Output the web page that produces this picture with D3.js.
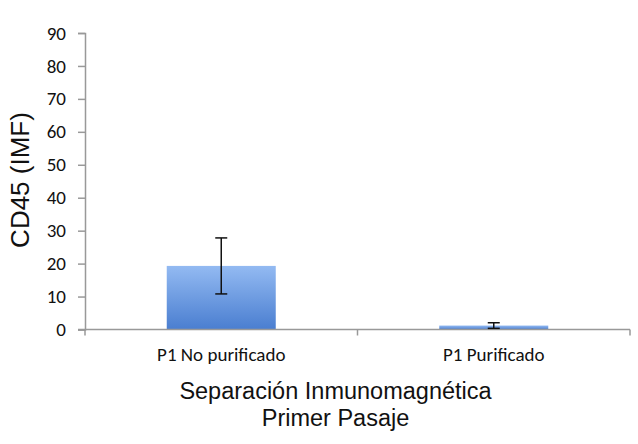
<!DOCTYPE html>
<html><head><meta charset="utf-8">
<script src="https://cdn.jsdelivr.net/npm/d3@7"></script>
<style>body{margin:0;background:#fff}svg{display:block}</style>
</head><body><svg id="c" width="638" height="444"></svg>
<script>
const categories = ["P1 No purificado", "P1 Purificado"];
const values = [19.3, 1.2];
const errors = [8.5, 0.85];
const yTicks = [0,10,20,30,40,50,60,70,80,90];
const yLabel = "CD45 (IMF)";
const xTitle = ["Separación Inmunomagnética", "Primer Pasaje"];

const svg = d3.select("#c");
const m = {l:85, r:630, t:33, b:329.5};
const x = d3.scaleBand().domain(categories).range([m.l, m.r]).paddingInner(0.6).paddingOuter(0.3);
const y = d3.scaleLinear().domain([0,90]).range([m.b, m.t]);

const defs = svg.append("defs");
const g = defs.append("linearGradient").attr("id","bg").attr("x1",0).attr("y1",0).attr("x2",0).attr("y2",1);
g.append("stop").attr("offset","0%").attr("stop-color","#93baf2");
g.append("stop").attr("offset","100%").attr("stop-color","#4a7ed0");

// bars
svg.selectAll("rect.bar").data(values).enter().append("rect")
  .attr("x",(d,i)=>x(categories[i])).attr("width",x.bandwidth())
  .attr("y",d=>y(d)).attr("height",d=>y(0)-y(d))
  .attr("fill","url(#bg)");

// axes
const axY = svg.append("g").attr("transform",`translate(${m.l},0)`)
  .call(d3.axisLeft(y).tickValues(yTicks).tickSize(7).tickPadding(12));
axY.attr("font-size",null).attr("font-family",null);
axY.select(".domain").attr("stroke","#999").attr("stroke-width",1.5);
axY.selectAll(".tick line").attr("stroke","#999").attr("stroke-width",1.5);
axY.selectAll("text").style("font-family","Carlito, 'Open Sans', 'Noto Sans', sans-serif").style("font-size","19px").attr("fill","#111");

svg.append("line").attr("x1",m.l-7).attr("x2",m.r).attr("y1",y(0)).attr("y2",y(0)).attr("stroke","#999").attr("stroke-width",1.5);
const bounds = [m.l, (m.l+m.r)/2, m.r];
svg.selectAll("line.xt").data(bounds).enter().append("line")
  .attr("x1",d=>d).attr("x2",d=>d).attr("y1",y(0)).attr("y2",y(0)+6)
  .attr("stroke","#999").attr("stroke-width",1.5);

// error bars
const eg = svg.append("g").attr("stroke","#111").attr("stroke-width",1.5);
values.forEach((v,i)=>{
  const cx = x(categories[i]) + x.bandwidth()/2;
  eg.append("line").attr("x1",cx).attr("x2",cx).attr("y1",y(v+errors[i])).attr("y2",y(v-errors[i]));
  [v+errors[i], v-errors[i]].forEach(e=>eg.append("line").attr("x1",cx-6).attr("x2",cx+6).attr("y1",y(e)).attr("y2",y(e)));
});

// x labels
svg.selectAll("text.xl").data(categories).enter().append("text")
  .attr("x",d=>x(d)+x.bandwidth()/2).attr("y",361).attr("text-anchor","middle")
  .style("font-family","Carlito, 'Open Sans', 'Noto Sans', sans-serif").style("font-size","19px").attr("fill","#111").text(d=>d);

// titles
svg.selectAll("text.xt").data(xTitle).enter().append("text")
  .attr("x",335.5).attr("y",(d,i)=>399+i*27).attr("text-anchor","middle")
  .style("font-family","'Liberation Sans', Arial, sans-serif").style("font-size","23.5px").attr("fill","#111").text(d=>d);

svg.append("text").attr("transform","translate(29,180) rotate(-90)").attr("text-anchor","middle")
  .style("font-family","'Liberation Sans', Arial, sans-serif").style("font-size","26px").attr("fill","#111").text(yLabel);
</script></body></html>
